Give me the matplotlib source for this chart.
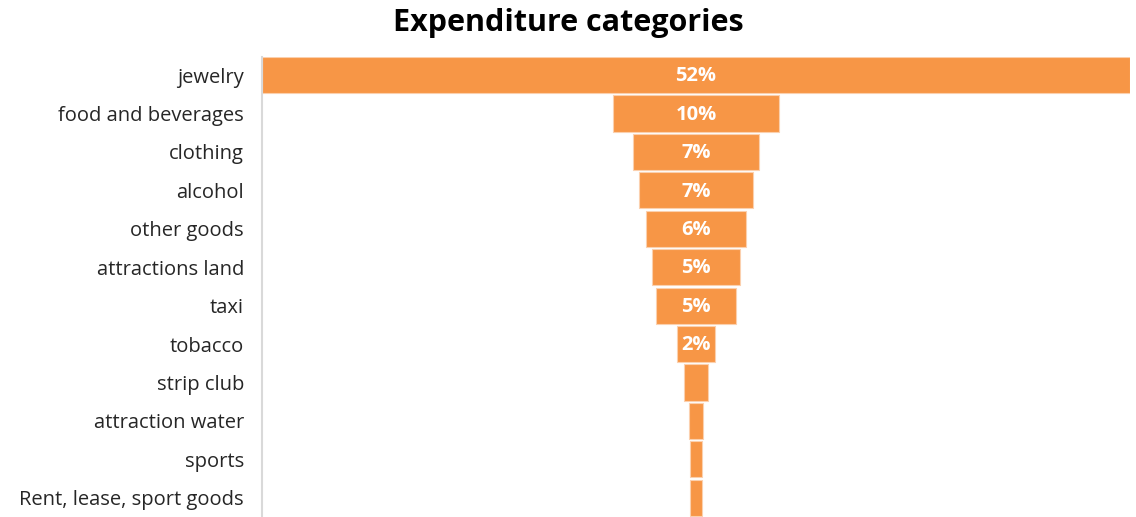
import matplotlib.pyplot as plt

categories = ["jewelry", "food and beverages", "clothing", "alcohol", "other goods",
              "attractions land", "taxi", "tobacco", "strip club", "attraction water",
              "sports", "Rent, lease, sport goods"]
shares = [52.0, 9.9, 7.55, 6.87, 5.95, 5.27, 4.75, 2.24, 1.44, 0.88, 0.74, 0.74]
bar_labels = ["52%", "10%", "7%", "7%", "6%", "5%", "5%", "2%", "", "", "", ""]

plt.rcParams["font.family"] = ["Open Sans", "DejaVu Sans"]

fig = plt.figure(figsize=(11.36, 5.17), dpi=100)
ax = fig.add_axes([262 / 1136, 0, 868 / 1136, 460 / 517])

ypos = list(range(len(categories)))
lefts = [-s / 2 for s in shares]
ax.barh(ypos, shares, left=lefts, height=0.94, color="#F79646",
        edgecolor="#FBD0AE", linewidth=0.8)

for y, lab in zip(ypos, bar_labels):
    if lab:
        ax.text(0, y + 0.03, lab, ha="center", va="center", color="white",
                fontsize=14.5, fontweight="bold")

ax.set_xlim(-26, 26)
ax.set_ylim(11.5, -0.47)
ax.set_yticks(ypos)
ax.set_yticklabels(categories, fontsize=14.5, color="#262626")
ax.tick_params(axis="y", length=0, pad=13)
ax.set_xticks([])
for side in ["top", "right", "bottom"]:
    ax.spines[side].set_visible(False)
ax.spines["left"].set_color("#D9D9D9")
ax.spines["left"].set_linewidth(1.5)

fig.text(0.5, 0.955, "Expenditure categories", ha="center", va="center",
         fontsize=22, fontweight="bold", color="black")

fig.savefig("out.png", dpi=100)
